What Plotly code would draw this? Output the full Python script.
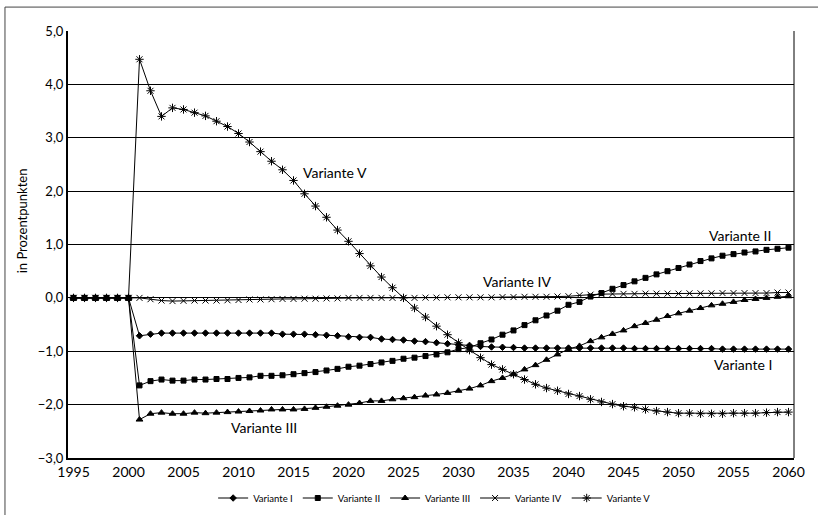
import plotly.graph_objects as go

years = list(range(1995, 2061))

zeros6 = [0.0] * 6  # 1995-2000

var_I = zeros6 + [
    -0.71, -0.68, -0.66, -0.66, -0.66, -0.66, -0.66, -0.66, -0.66, -0.66,   # 2001-2010
    -0.66, -0.66, -0.66, -0.68, -0.68, -0.68, -0.69, -0.70, -0.71, -0.73,   # 2011-2020
    -0.74, -0.74, -0.77, -0.78, -0.79, -0.81, -0.82, -0.84, -0.86, -0.875,  # 2021-2030
    -0.89, -0.91, -0.92, -0.925, -0.93, -0.94, -0.94, -0.94, -0.94, -0.94,  # 2031-2040
    -0.94, -0.94, -0.94, -0.94, -0.94, -0.95, -0.95, -0.95, -0.95, -0.95,   # 2041-2050
    -0.95, -0.95, -0.95, -0.96, -0.96, -0.96, -0.96, -0.96, -0.96, -0.96,   # 2051-2060
]

var_II = zeros6 + [
    -1.64, -1.56, -1.53, -1.55, -1.55, -1.53, -1.53, -1.52, -1.52, -1.50,
    -1.49, -1.46, -1.46, -1.45, -1.43, -1.41, -1.39, -1.36, -1.33, -1.29,
    -1.27, -1.24, -1.21, -1.18, -1.14, -1.12, -1.09, -1.06, -1.02, -0.96,
    -0.93, -0.85, -0.78, -0.69, -0.61, -0.51, -0.42, -0.33, -0.24, -0.13,
    -0.075, 0.025, 0.09, 0.17, 0.24, 0.31, 0.375, 0.44, 0.50, 0.56,
    0.625, 0.69, 0.74, 0.79, 0.82, 0.85, 0.87, 0.90, 0.92, 0.94,
]

var_III = zeros6 + [
    -2.28, -2.17, -2.15, -2.17, -2.17, -2.15, -2.16, -2.15, -2.14, -2.13,
    -2.12, -2.11, -2.09, -2.09, -2.09, -2.08, -2.06, -2.04, -2.02, -2.00,
    -1.97, -1.93, -1.93, -1.90, -1.88, -1.86, -1.83, -1.81, -1.78, -1.74,
    -1.70, -1.64, -1.56, -1.50, -1.43, -1.34, -1.26, -1.16, -1.06, -0.96,
    -0.90, -0.81, -0.74, -0.675, -0.61, -0.53, -0.47, -0.41, -0.34, -0.29,
    -0.24, -0.19, -0.14, -0.11, -0.075, -0.04, -0.02, 0.0, 0.02, 0.03,
]

var_IV = zeros6 + [
    0.0, -0.025, -0.05, -0.06, -0.055, -0.05, -0.05, -0.05, -0.045, -0.04,
    -0.03, -0.03, -0.025, -0.02, -0.02, -0.015, -0.015, -0.01, -0.01, 0.0,
    0.0, 0.0, 0.0, 0.0, 0.0, 0.0, 0.005, 0.005, 0.01, 0.01,
    0.01, 0.01, 0.01, 0.015, 0.015, 0.02, 0.02, 0.02, 0.025, 0.03,
    0.05, 0.06, 0.07, 0.075, 0.075, 0.075, 0.08, 0.08, 0.08, 0.08,
    0.085, 0.085, 0.085, 0.09, 0.09, 0.09, 0.09, 0.09, 0.10, 0.10,
]

var_V = zeros6 + [
    4.47, 3.88, 3.40, 3.56, 3.53, 3.47, 3.41, 3.31, 3.21, 3.08,
    2.92, 2.74, 2.56, 2.40, 2.20, 1.95, 1.72, 1.51, 1.27, 1.06,
    0.83, 0.60, 0.39, 0.19, 0.0, -0.19, -0.36, -0.53, -0.69, -0.84,
    -0.98, -1.12, -1.25, -1.34, -1.43, -1.53, -1.62, -1.69, -1.74, -1.80,
    -1.84, -1.90, -1.95, -1.99, -2.03, -2.05, -2.09, -2.12, -2.14, -2.16,
    -2.16, -2.17, -2.17, -2.17, -2.16, -2.16, -2.16, -2.15, -2.14, -2.14,
]

series = [
    ("Variante I", var_I, "diamond", 5),
    ("Variante II", var_II, "square", 5),
    ("Variante III", var_III, "triangle-up", 6),
    ("Variante IV", var_IV, "x-thin-open", 6),
    ("Variante V", var_V, "asterisk-open", 7),
]

labels = [
    ("Variante V", 2018.8, 2.34),
    ("Variante II", 2055.6, 1.17),
    ("Variante IV", 2035.3, 0.30),
    ("Variante I", 2055.9, -1.25),
    ("Variante III", 2012.3, -2.42),
]

font_family = "Lato, 'Open Sans', sans-serif"

fig = go.Figure()
for name, vals, sym, size in series:
    fig.add_trace(go.Scatter(
        x=years, y=vals, name=name, mode="lines+markers",
        line=dict(color="black", width=1),
        marker=dict(symbol=sym, size=size, color="black",
                    line=dict(color="black", width=1)),
    ))

for text, lx, ly in labels:
    fig.add_annotation(x=lx, y=ly, text=text, showarrow=False,
                       font=dict(size=14, color="black", family=font_family))

# y axis title as rotated annotation
fig.add_annotation(xref="paper", yref="paper", x=-0.063, y=0.555,
                   text="in Prozentpunkten", textangle=-90, showarrow=False,
                   xanchor="center", yanchor="middle",
                   font=dict(size=13, color="black", family=font_family))

# outer frame (top and left visible)
fig.add_shape(type="rect", xref="paper", yref="paper",
              x0=-0.0868, x1=1.04, y0=-0.2, y1=1.056,
              line=dict(color="#444", width=1), layer="below")
# right frame line of plot area
fig.add_shape(type="line", xref="paper", yref="paper",
              x0=1, x1=1, y0=0, y1=1, line=dict(color="black", width=1))

fig.update_layout(
    width=818, height=515,
    margin=dict(l=68, r=24, t=31, b=57, autoexpand=False),
    paper_bgcolor="white", plot_bgcolor="white",
    separators=",.",
    font=dict(family=font_family, color="black", size=13),
    showlegend=True,
    legend=dict(orientation="h", x=0.505, xanchor="center",
                yref="container", y=0.033, yanchor="middle",
                font=dict(size=9.5), itemwidth=30, tracegroupgap=0),
)
fig.update_xaxes(range=[1994.5, 2060.5], tickvals=list(range(1995, 2061, 5)),
                 showgrid=False, zeroline=False, showline=True,
                 linecolor="black", linewidth=2, ticks="", automargin=False,
                 tickfont=dict(size=14))
fig.update_yaxes(range=[-3, 5], dtick=1, tickformat=".1f",
                 showgrid=True, gridcolor="black", gridwidth=1,
                 zeroline=False, showline=True, linecolor="black",
                 linewidth=2, ticks="", automargin=False,
                 tickfont=dict(size=13))

fig.write_html("out.html",
               config={"displayModeBar": False},
               post_script="document.body.style.margin='0';document.body.style.overflow='hidden';")
